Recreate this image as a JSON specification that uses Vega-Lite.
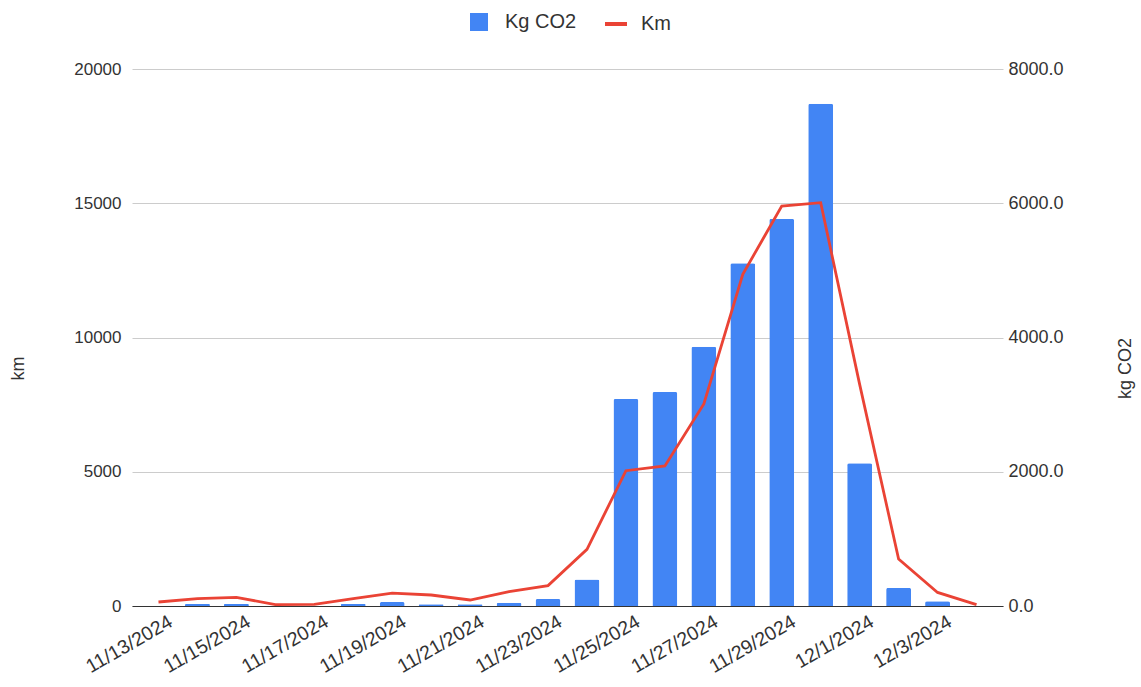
{
  "$schema": "https://vega.github.io/schema/vega-lite/v6.json",
  "width": 871,
  "height": 537,
  "autosize": {"type": "none"},
  "padding": {"left": 132, "top": 69, "right": 138, "bottom": 81},
  "background": "white",
  "config": {
    "view": {"stroke": null},
    "font": "Liberation Sans",
    "axis": {"labelFont": "Liberation Sans", "titleFont": "Liberation Sans", "labelColor": "#333", "titleColor": "#333", "titleFontWeight": "normal"},
    "legend": {"labelFont": "Liberation Sans"}
  },
  "data": {
    "values": [
      {"date": "11/13/2024", "km": 149, "kg": 0},
      {"date": "11/14/2024", "km": 273, "kg": 30},
      {"date": "11/15/2024", "km": 323, "kg": 30},
      {"date": "11/16/2024", "km": 50, "kg": 0},
      {"date": "11/17/2024", "km": 60, "kg": 0},
      {"date": "11/18/2024", "km": 273, "kg": 30},
      {"date": "11/19/2024", "km": 480, "kg": 60},
      {"date": "11/20/2024", "km": 410, "kg": 25},
      {"date": "11/21/2024", "km": 223, "kg": 25},
      {"date": "11/22/2024", "km": 534, "kg": 50},
      {"date": "11/23/2024", "km": 760, "kg": 105},
      {"date": "11/24/2024", "km": 2110, "kg": 395},
      {"date": "11/25/2024", "km": 5039, "kg": 3085},
      {"date": "11/26/2024", "km": 5214, "kg": 3189},
      {"date": "11/27/2024", "km": 7523, "kg": 3864},
      {"date": "11/28/2024", "km": 12354, "kg": 5107},
      {"date": "11/29/2024", "km": 14898, "kg": 5767},
      {"date": "11/30/2024", "km": 15020, "kg": 7481},
      {"date": "12/1/2024", "km": 8253, "kg": 2127},
      {"date": "12/2/2024", "km": 1750, "kg": 270},
      {"date": "12/3/2024", "km": 505, "kg": 70},
      {"date": "12/4/2024", "km": 50, "kg": 0}
    ]
  },
  "encoding": {
    "x": {
      "field": "date",
      "type": "ordinal",
      "sort": null,
      "scale": {"paddingInner": 0.36, "paddingOuter": 0.36},
      "axis": {
        "title": null,
        "values": ["11/13/2024", "11/15/2024", "11/17/2024", "11/19/2024", "11/21/2024", "11/23/2024", "11/25/2024", "11/27/2024", "11/29/2024", "12/1/2024", "12/3/2024"],
        "labelAngle": -30,
        "labelAlign": "right",
        "labelBaseline": "top",
        "labelFontSize": 19.5,
        "labelPadding": 6,
        "labelOffset": 8,
        "ticks": false,
        "grid": false,
        "domainColor": "#333",
        "domainWidth": 1
      }
    }
  },
  "layer": [
    {
      "mark": {"type": "bar", "cornerRadiusTopLeft": 2, "cornerRadiusTopRight": 2},
      "encoding": {
        "y": {
          "field": "kg",
          "type": "quantitative",
          "scale": {"domain": [0, 8000], "nice": false, "zero": true},
          "axis": {
            "orient": "right",
            "title": "kg CO2",
            "values": [0, 2000, 4000, 6000, 8000],
            "format": ".1f",
            "grid": false,
            "domain": false,
            "ticks": false,
            "labelFontSize": 18,
            "labelPadding": 5,
            "titleFontSize": 18,
            "titleAngle": 270,
            "titleAlign": "center",
            "titleBaseline": "middle",
            "titleX": 122,
            "titleY": 299
          }
        },
        "fill": {
          "datum": "Kg CO2",
          "type": "nominal",
          "scale": {"range": ["#4285F4"]},
          "legend": {
            "orient": "none",
            "legendX": 337,
            "legendY": -57,
            "title": null,
            "symbolType": "square",
            "symbolSize": 324,
            "symbolStrokeWidth": 0,
            "labelFontSize": 20,
            "labelColor": "#333",
            "labelOffset": 16,
            "padding": 0
          }
        }
      }
    },
    {
      "mark": {"type": "line", "strokeWidth": 2.8},
      "encoding": {
        "y": {
          "field": "km",
          "type": "quantitative",
          "scale": {"domain": [0, 20000], "nice": false, "zero": true},
          "axis": {
            "orient": "left",
            "title": "km",
            "values": [0, 5000, 10000, 15000, 20000],
            "format": "d",
            "grid": true,
            "gridColor": "#cccccc",
            "domain": false,
            "ticks": false,
            "labelFontSize": 17,
            "labelPadding": 11,
            "titleFontSize": 18,
            "titleAngle": 270,
            "titleAlign": "center",
            "titleBaseline": "middle",
            "titleX": -114,
            "titleY": 299
          }
        },
        "stroke": {
          "datum": "Km",
          "type": "nominal",
          "scale": {"range": ["#EA4335"]},
          "legend": {
            "orient": "none",
            "legendX": 471,
            "legendY": -58,
            "title": null,
            "symbolType": "stroke",
            "symbolSize": 484,
            "symbolStrokeWidth": 4,
            "labelFontSize": 20,
            "labelColor": "#333",
            "labelOffset": 12,
            "padding": 0
          }
        }
      }
    }
  ],
  "resolve": {
    "scale": {"y": "independent", "fill": "independent", "stroke": "independent"},
    "axis": {"y": "independent"},
    "legend": {"fill": "independent", "stroke": "independent"}
  }
}
